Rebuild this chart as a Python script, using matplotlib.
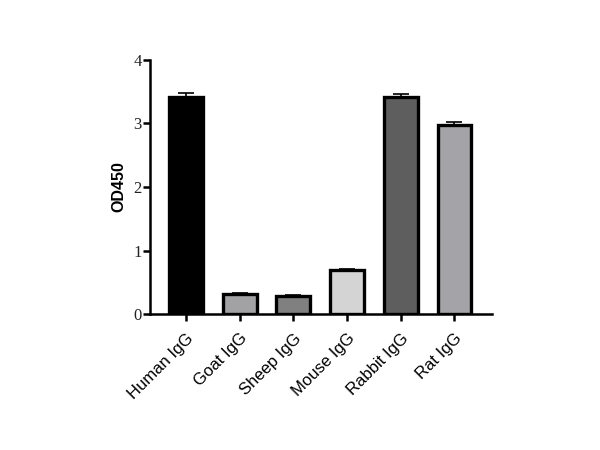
import matplotlib
matplotlib.use("Agg")
import matplotlib.pyplot as plt
import numpy as np

groups = ["Human IgG", "Goat IgG", "Sheep IgG", "Mouse IgG", "Rabbit IgG", "Rat IgG"]
od450 = [3.41, 0.31, 0.28, 0.70, 3.41, 2.97]
sem = [0.07, 0.02, 0.025, 0.01, 0.06, 0.05]
fills = ["#000000", "#a2a2a4", "#808080", "#d4d4d4", "#5e5e5e", "#a4a4a8"]

fig = plt.figure(figsize=(6, 4.5), dpi=100)
ax = fig.add_axes([0.25, 0.302, 0.57, 0.565])

x = np.arange(len(groups))
ax.bar(x, od450, width=0.63, color=fills, edgecolor="black", linewidth=2.4, zorder=2)
ax.errorbar(x, od450, yerr=[np.zeros(len(sem)), sem], fmt="none", ecolor="black",
            elinewidth=1.2, capsize=6, capthick=1.2, zorder=1)

ax.set_xlim(-0.67, 5.7)
ax.set_ylim(0, 4)
ax.set_yticks([0, 1, 2, 3, 4])
ax.set_yticklabels(["0", "1", "2", "3", "4"], family="Liberation Serif", fontsize=12,
                   color="#222222")
ax.set_xticks(x)
ax.set_xticklabels(groups, rotation=45, ha="right", rotation_mode="anchor",
                   family="Liberation Sans", fontsize=12)
ax.set_ylabel("OD450", family="Liberation Sans", fontweight="bold", fontsize=11.5, labelpad=5)

ax.spines["top"].set_visible(False)
ax.spines["right"].set_visible(False)
ax.spines["left"].set_linewidth(1.8)
ax.spines["bottom"].set_linewidth(1.8)
ax.tick_params(axis="both", width=1.8, length=5)
ax.tick_params(axis="y", pad=1)
ax.tick_params(axis="x", pad=7)

fig.savefig("out.png", dpi=100)
